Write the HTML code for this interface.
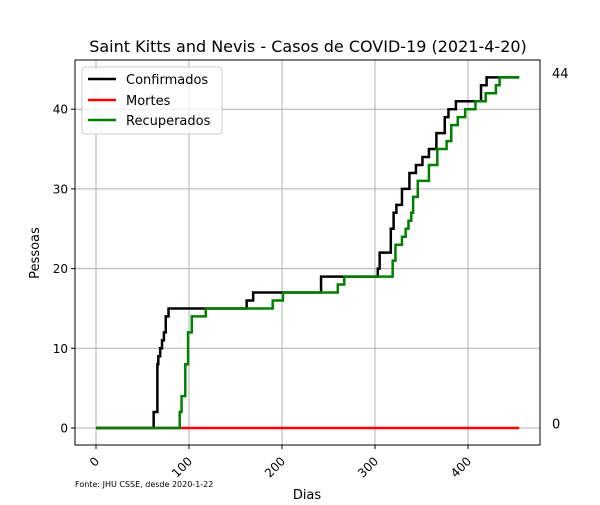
<!DOCTYPE html>
<html><head><meta charset="utf-8"><style>
body{margin:0;background:#fff;font-family:"Liberation Sans","DejaVu Sans",sans-serif}
svg text{font-family:"DejaVu Sans","Liberation Sans",sans-serif}
</style></head><body>
<svg id="chart" width="600" height="500" viewBox="0 0 600 500" xmlns="http://www.w3.org/2000/svg">
<rect width="600" height="500" fill="#fff"/>
<text x="308" y="52" font-size="16" text-anchor="middle">Saint Kitts and Nevis - Casos de COVID-19 (2021-4-20)</text>
<g id="grid"></g><g id="series"></g>
<rect x="75" y="60" width="465" height="385" fill="none" stroke="#000" stroke-width="1"/>
<g id="ticks"></g>
<text x="307" y="499" font-size="13" text-anchor="middle">Dias</text>
<text transform="translate(39,253) rotate(-90)" font-size="13" text-anchor="middle">Pessoas</text>
<text x="75" y="487" font-size="8">Fonte: JHU CSSE, desde 2020-1-22</text>
<g>
<rect x="82" y="67" width="140" height="67" rx="3" fill="#fff" fill-opacity="0.8" stroke="#ccc"/>
<line x1="88" y1="79" x2="116" y2="79" stroke="#000" stroke-width="2.5"/>
<text x="126" y="84" font-size="13">Confirmados</text>
<line x1="88" y1="100" x2="116" y2="100" stroke="#f00" stroke-width="2.5"/>
<text x="126" y="105" font-size="13">Mortes</text>
<line x1="88" y1="120" x2="116" y2="120" stroke="#008000" stroke-width="2.5"/>
<text x="126" y="125" font-size="13">Recuperados</text>
</g>
<g id="endlabels"></g>
</svg>
<script>
const lastDay = 455;
const confDays = [0,62,66,67,69,71,73,75,78,84,162,169,242,303,305,317,320,323,329,337,344,351,358,366,375,379,387,414,420];
const confVals = [0,2,8,9,10,11,12,14,15,15,16,17,19,20,22,25,27,28,30,32,33,34,35,37,39,40,41,43,44];
const recDays = [0,90,92,96,99,103,108,118,190,201,260,267,317,319,322,329,333,336,339,341,346,358,367,377,382,389,397,408,419,430,434];
const recVals = [0,2,4,8,12,14,14,15,16,17,18,19,19,21,23,24,25,26,27,29,31,33,35,36,38,39,40,41,42,43,44];
const deathDays = [0];
const deathVals = [0];
const xTicks = [0,100,200,300,400];
const yTicks = [0,10,20,30,40];

const X = d => 96 + d * 0.93;
const Y = v => 428 - v * 7.97;
const NS = "http://www.w3.org/2000/svg";
function mk(tag, attrs, parent){const e=document.createElementNS(NS,tag);for(const k in attrs)e.setAttribute(k,attrs[k]);parent.appendChild(e);return e;}
const grid=document.getElementById('grid'),ticks=document.getElementById('ticks'),series=document.getElementById('series'),endl=document.getElementById('endlabels');
xTicks.forEach(t=>{
  const g=mk('line',{x1:X(t),x2:X(t),y1:60,y2:445,stroke:'#b0b0b0','stroke-width':1},grid);
  
  
  mk('line',{x1:X(t),x2:X(t),y1:445,y2:449,stroke:'#000'},ticks);
  const tx=mk('text',{transform:`translate(${X(t)+4},${462}) rotate(-45)`,'font-size':12,'text-anchor':'end'},ticks);
  tx.textContent=t;
  
  
});
yTicks.forEach(t=>{
  const g=mk('line',{x1:75,x2:540,y1:Y(t),y2:Y(t),stroke:'#b0b0b0','stroke-width':1},grid);
  
  
  mk('line',{x1:71,x2:75,y1:Y(t),y2:Y(t),stroke:'#000'},ticks);
  const tx=mk('text',{x:68,y:Y(t)+4.5,'font-size':12,'text-anchor':'end'},ticks);
  tx.textContent=t;
  
  
});
function stepPath(days,vals){
  let d=`M${X(days[0])},${Y(vals[0])}`;
  for(let i=1;i<days.length;i++){d+=`H${X(days[i])}V${Y(vals[i])}`;}
  d+=`H${X(lastDay)}`;return d;
}
const pc=mk('path',{d:stepPath(confDays,confVals),fill:'none',stroke:'#000','stroke-width':2.5},series);


const pd=mk('path',{d:stepPath(deathDays,deathVals),fill:'none',stroke:'#f00','stroke-width':2.5},series);


const pr=mk('path',{d:stepPath(recDays,recVals),fill:'none',stroke:'#008000','stroke-width':2.5},series);


[confVals[confVals.length-1],deathVals[deathVals.length-1]].forEach(v=>{
  const t=mk('text',{x:552,y:Y(v)+0.5,'font-size':13},endl);
  t.textContent=v;
  
  
});
</script>
</body></html>
